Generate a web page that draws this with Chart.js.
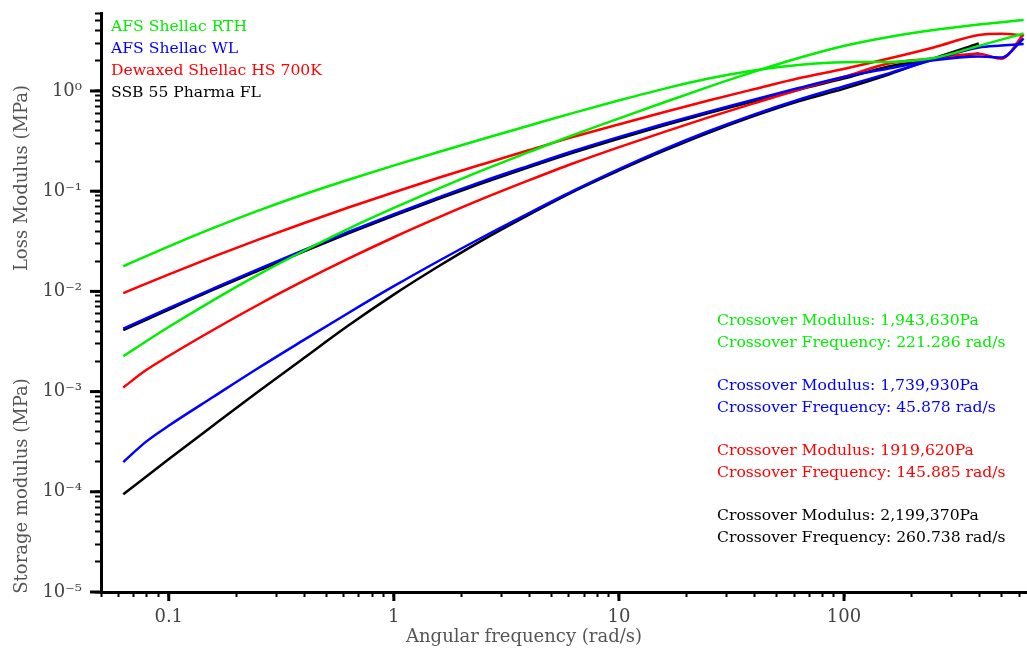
<!DOCTYPE html>
<html lang="en">
<head>
    <meta charset="UTF-8">
    <title>Loss and Storage Modulus</title>
    <script src="https://cdn.jsdelivr.net/npm/chart.js"></script>
    <style>
        html, body {
            margin: 0;
            padding: 0;
            background-color: #ffffff;
        }
        .chart-box {
            width: 1027px;
            height: 653px;
        }
    </style>
</head>
<body>
    <div class="chart-box">
        <canvas id="modulusChart"></canvas>
    </div>

    <script>
        // angular frequency (rad/s)
        const freq = [0.0628, 0.0791, 0.0995, 0.158, 0.250, 0.397, 0.628, 0.995, 1.58, 2.50, 3.97,
                      6.28, 9.95, 15.8, 25.0, 39.7, 62.8, 99.5, 158, 250, 397, 500, 628];

        // moduli in MPa, null where there is no point
        const rthLoss = [0.0178, null, 0.0280, 0.0430, 0.0640, 0.0926, 0.130, 0.180, 0.246, 0.334, 0.450,
                         0.605, 0.802, 1.05, 1.33, 1.60, 1.82, 1.94, 1.95, 2.13, 2.82, null, 3.75];
        const rthStorage = [0.00226, null, 0.00438, 0.00819, 0.0147, 0.0253, 0.0421, 0.0676, 0.106, 0.163, 0.245,
                            0.364, 0.530, 0.768, 1.10, 1.55, 2.13, 2.81, 3.46, 4.06, 4.61, null, 5.11];
        const wlLoss = [0.00424, null, 0.00678, 0.0107, 0.0167, 0.0258, 0.0392, 0.0588, 0.0867, 0.126, 0.179,
                        0.252, 0.346, 0.468, 0.622, 0.817, 1.07, 1.38, 1.68, 2.02, 2.21, 2.16, 3.34];
        const wlStorage = [0.000198, 0.000315, 0.000453, 0.000888, 0.00172, 0.00326, 0.00609, 0.0112, 0.0201, 0.0351, 0.0601,
                           0.101, 0.165, 0.261, 0.396, 0.580, 0.817, 1.11, 1.50, 2.06, 2.72, 2.84, 2.94];
        const hsLoss = [0.00961, null, 0.0147, 0.0222, 0.0329, 0.0479, 0.0687, 0.0971, 0.136, 0.187, 0.256,
                        0.348, 0.463, 0.613, 0.802, 1.04, 1.34, 1.66, 2.11, 2.72, 3.62, 3.72, 3.58];
        const hsStorage = [0.00110, 0.00163, 0.00225, 0.00414, 0.00736, 0.0127, 0.0212, 0.0345, 0.0547, 0.0846, 0.128,
                           0.190, 0.274, 0.389, 0.545, 0.752, 1.03, 1.38, 1.88, 2.11, 2.35, 2.10, 3.70];
        const ssbLoss = [0.00410, null, 0.00655, 0.0104, 0.0161, 0.0249, 0.0379, 0.0568, 0.0838, 0.121, 0.173,
                         0.243, 0.334, 0.452, 0.601, 0.789, 1.03, 1.33, 1.76, 2.06, 2.37, null, null];
        const ssbStorage = [0.0000943, null, 0.000210, 0.000461, 0.00100, 0.00215, 0.00456, 0.00923, 0.0178, 0.0329, 0.0581,
                            0.0991, 0.160, 0.252, 0.383, 0.561, 0.789, 1.05, 1.46, 2.11, 2.98, null, null];

        const materials = ['AFS Shellac RTH', 'AFS Shellac WL', 'Dewaxed Shellac HS 700K', 'SSB 55 Pharma FL'];
        const colors = ['#00ee00', '#0000ff', '#ff0000', '#000000'];
        const crossModulus = ['1,943,630Pa', '1,739,930Pa', '1919,620Pa', '2,199,370Pa'];
        const crossFrequency = ['221.286', '45.878', '145.885', '260.738'];

        const xTitle = 'Angular frequency (rad/s)';
        const yTitleTop = 'Loss Modulus (MPa)';
        const yTitleBottom = 'Storage modulus (MPa)';

        const serif = '"DejaVu Serif", "Liberation Serif", serif';
        const sup = {'-': '\u207B', '0': '\u2070', '1': '\u00B9', '2': '\u00B2', '3': '\u00B3', '4': '\u2074',
                     '5': '\u2075', '6': '\u2076', '7': '\u2077', '8': '\u2078', '9': '\u2079'};

        function isDecade(v) {
            const l = Math.log10(v);
            return Math.abs(l - Math.round(l)) < 1e-9;
        }

        function logTicks(min, max) {
            const out = [];
            for (let e = Math.floor(Math.log10(min)); e <= Math.ceil(Math.log10(max)); e++) {
                for (let m = 1; m <= 9; m++) {
                    const v = Number((m * Math.pow(10, e)).toPrecision(6));
                    if (v >= min * 0.999 && v <= max * 1.001) out.push({ value: v, major: isDecade(v) });
                }
            }
            return out;
        }

        function points(values) {
            return freq.map((f, i) => ({ x: f, y: values[i] })).filter(p => p.y !== null);
        }

        function line(label, values, color) {
            return {
                label: label,
                data: points(values),
                borderColor: color,
                backgroundColor: color,
                borderWidth: 2.5,
                pointRadius: 0,
                cubicInterpolationMode: 'monotone',
                fill: false
            };
        }

        // extra text, longer decade marks
        const decorations = {
            id: 'decorations',
            afterDraw(chart) {
                const { ctx, chartArea, scales } = chart;
                ctx.save();
                ctx.strokeStyle = '#000';
                ctx.lineWidth = 3;
                scales.y.ticks.forEach(t => {
                    if (!isDecade(t.value)) return;
                    const py = scales.y.getPixelForValue(t.value);
                    ctx.beginPath();
                    ctx.moveTo(chartArea.left - 11, py);
                    ctx.lineTo(chartArea.left, py);
                    ctx.stroke();
                });
                scales.x.ticks.forEach(t => {
                    if (!isDecade(t.value)) return;
                    const px = scales.x.getPixelForValue(t.value);
                    ctx.beginPath();
                    ctx.moveTo(px, chartArea.bottom);
                    ctx.lineTo(px, chartArea.bottom + 9);
                    ctx.stroke();
                });

                ctx.font = '15.6px ' + serif;
                ctx.textAlign = 'left';
                ctx.textBaseline = 'middle';
                materials.forEach((name, i) => {
                    ctx.fillStyle = colors[i];
                    ctx.fillText(name, chartArea.left + 10, chartArea.top + 14 + i * 22);
                });

                colors.forEach((c, i) => {
                    const y0 = chartArea.top + 308 + i * 65;
                    ctx.fillStyle = c;
                    ctx.fillText('Crossover Modulus: ' + crossModulus[i], chartArea.left + 616, y0);
                    ctx.fillText('Crossover Frequency: ' + crossFrequency[i] + ' rad/s', chartArea.left + 616, y0 + 21.5);
                });

                ctx.fillStyle = '#555';
                ctx.font = '18px ' + serif;
                ctx.textAlign = 'center';
                ctx.fillText(xTitle, chartArea.left + 423, chartArea.bottom + 45);
                ctx.translate(22, 0);
                ctx.rotate(-Math.PI / 2);
                ctx.fillText(yTitleTop, -178, 0);
                ctx.fillText(yTitleBottom, -486, 0);
                ctx.restore();
            }
        };

        new Chart(document.getElementById('modulusChart'), {
            type: 'line',
            data: {
                datasets: [
                    line('AFS Shellac RTH loss', rthLoss, colors[0]),
                    line('AFS Shellac RTH storage', rthStorage, colors[0]),
                    line('AFS Shellac WL loss', wlLoss, colors[1]),
                    line('AFS Shellac WL storage', wlStorage, colors[1]),
                    line('Dewaxed Shellac HS 700K loss', hsLoss, colors[2]),
                    line('Dewaxed Shellac HS 700K storage', hsStorage, colors[2]),
                    line('SSB 55 Pharma FL loss', ssbLoss, colors[3]),
                    line('SSB 55 Pharma FL storage', ssbStorage, colors[3])
                ]
            },
            options: {
                responsive: true,
                maintainAspectRatio: false,
                animation: false,
                layout: { padding: { top: 13, right: 0, left: 0, bottom: 0 } },
                plugins: {
                    legend: { display: false },
                    tooltip: { enabled: false }
                },
                scales: {
                    x: {
                        type: 'logarithmic',
                        min: 0.05,
                        max: 650,
                        afterBuildTicks: s => { s.ticks = logTicks(s.min, s.max); },
                        afterFit: s => { s.height = 61; s.paddingLeft = 0; s.paddingRight = 0; },
                        border: { display: true, color: '#000', width: 3 },
                        grid: { drawOnChartArea: false, drawTicks: true, tickLength: 5, tickWidth: 2, tickColor: '#000' },
                        ticks: {
                            autoSkip: false,
                            maxRotation: 0,
                            padding: 10,
                            color: '#444',
                            font: { family: serif, size: 18 },
                            callback: v => isDecade(v) ? String(v) : ''
                        }
                    },
                    y: {
                        type: 'logarithmic',
                        min: 1e-5,
                        max: 6,
                        afterBuildTicks: s => { s.ticks = logTicks(s.min, s.max); },
                        afterFit: s => { s.width = 101; s.paddingTop = 0; s.paddingBottom = 0; },
                        border: { display: true, color: '#000', width: 3 },
                        grid: { drawOnChartArea: false, drawTicks: true, tickLength: 6, tickWidth: 2, tickColor: '#000' },
                        ticks: {
                            autoSkip: false,
                            padding: 13,
                            color: '#444',
                            font: { family: serif, size: 18 },
                            callback: v => isDecade(v)
                                ? '10' + String(Math.round(Math.log10(v))).split('').map(ch => sup[ch]).join('')
                                : ''
                        }
                    }
                }
            },
            plugins: [decorations]
        });
    </script>
</body>
</html>
